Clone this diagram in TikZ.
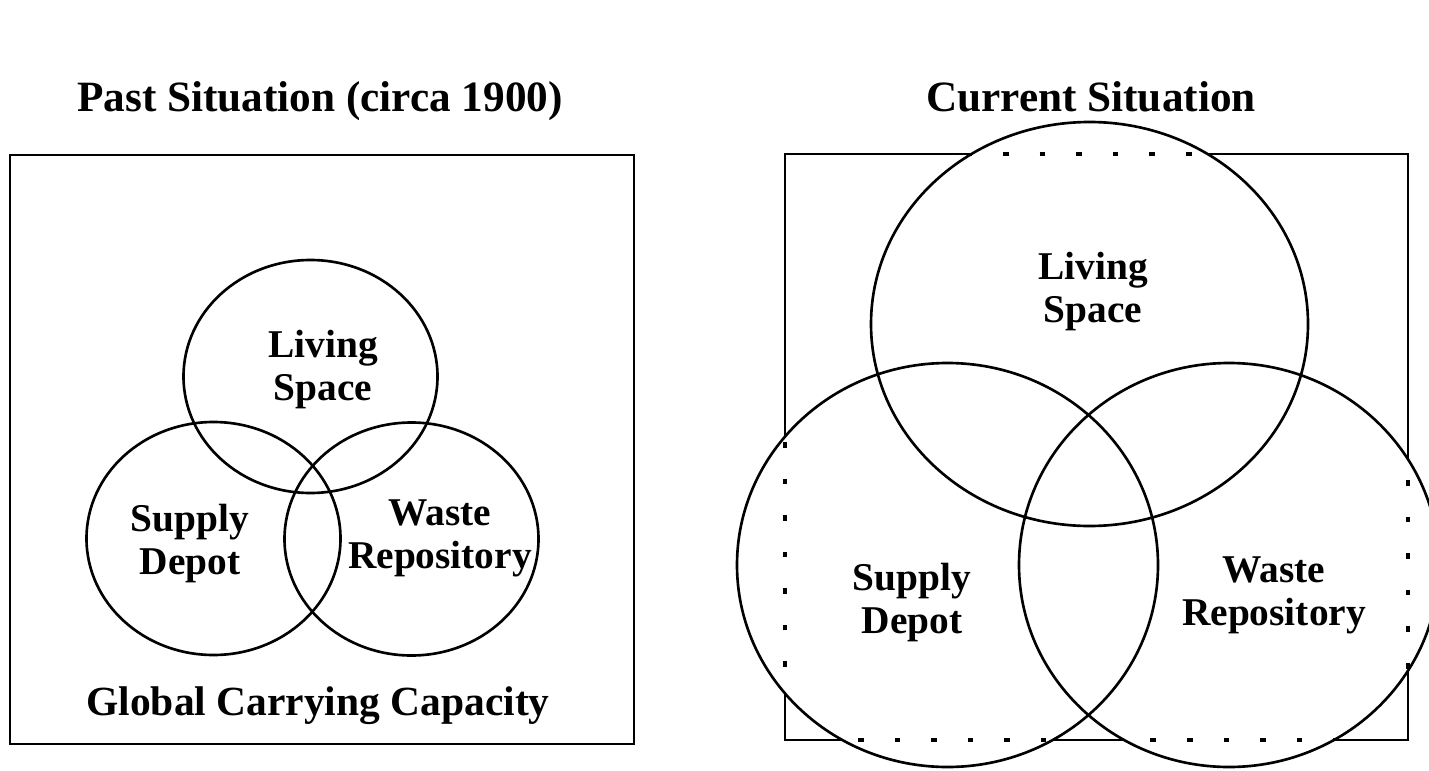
\documentclass[tikz,border=0pt]{standalone}
\usepackage{fontspec}
\setmainfont{Liberation Serif}
\usepackage{tikz}

\tikzset{
  venn/.style={line width=0.75pt},
  frame/.style={line width=0.75pt},
  dotframe/.style={line width=1pt, dash pattern=on 1.6pt off 8.8pt},
  lbl/.style={font=\fontsize{11.2}{12.2}\selectfont\bfseries, align=center, inner sep=0pt},
  ttl/.style={font=\fontsize{12.3}{14}\selectfont\bfseries, anchor=base, inner sep=0pt}
}

\begin{document}
\begin{tikzpicture}
			%%%%% START %%%%%
			\useasboundingbox (0, 0) rectangle (14.29, 7.70);
			
			%% past situation
			\node[ttl] (pastTitle) at (3.20, 6.59) {Past Situation (circa 1900)};
			\draw[frame] (0.10, 0.26) rectangle (6.34, 6.15);
			
			\draw[venn] (3.105, 3.935) ellipse (1.27 and 1.165);
			\draw[venn] (2.135, 2.315) ellipse (1.27 and 1.165);
			\draw[venn] (4.115, 2.310) ellipse (1.27 and 1.165);
			
			\node[lbl] (pastLiving) at (3.23, 4.005) {Living\\Space};
			\node[lbl] (pastSupply) at (1.90, 2.265) {Supply\\Depot};
			\node[lbl] (pastWaste) at (4.40, 2.320) {Waste\\Repository};
			\node[ttl, font=\fontsize{11.8}{14}\selectfont\bfseries] (capacity) at (3.18, 0.55) {Global Carrying Capacity};
			
			%% current situation
			\node[ttl] (curTitle) at (10.91, 6.59) {Current Situation};
			
			% frame, solid outside the circles
			\begin{scope}[even odd rule]
				\clip (7.0, 0) rectangle (14.29, 7.0)
					(10.895, 4.46) ellipse (2.185 and 2.02)
					(9.475, 2.05) ellipse (2.105 and 2.02)
					(12.29, 2.05) ellipse (2.10 and 2.02);
				\draw[frame] (7.85, 0.30) rectangle (14.08, 6.16);
			\end{scope}
			
			% frame, dotted inside the circles
			\begin{scope}[even odd rule]
				\clip (10.895, 4.46) ellipse (2.185 and 2.02)
					(9.475, 2.05) ellipse (2.105 and 2.02)
					(12.29, 2.05) ellipse (2.10 and 2.02);
				\draw[dotframe] (7.85, 0.30) rectangle (14.08, 6.16);
			\end{scope}
			
			\draw[venn] (10.895, 4.46) ellipse (2.185 and 2.02);
			\draw[venn] (9.475, 2.05) ellipse (2.105 and 2.02);
			\draw[venn] (12.29, 2.05) ellipse (2.10 and 2.02);
			
			\node[lbl] (curLiving) at (10.93, 4.785) {Living\\Space};
			\node[lbl] (curSupply) at (9.12, 1.675) {Supply\\Depot};
			\node[lbl] (curWaste) at (12.74, 1.750) {Waste\\Repository};
			%%%%% END %%%%%
\end{tikzpicture}
\end{document}
